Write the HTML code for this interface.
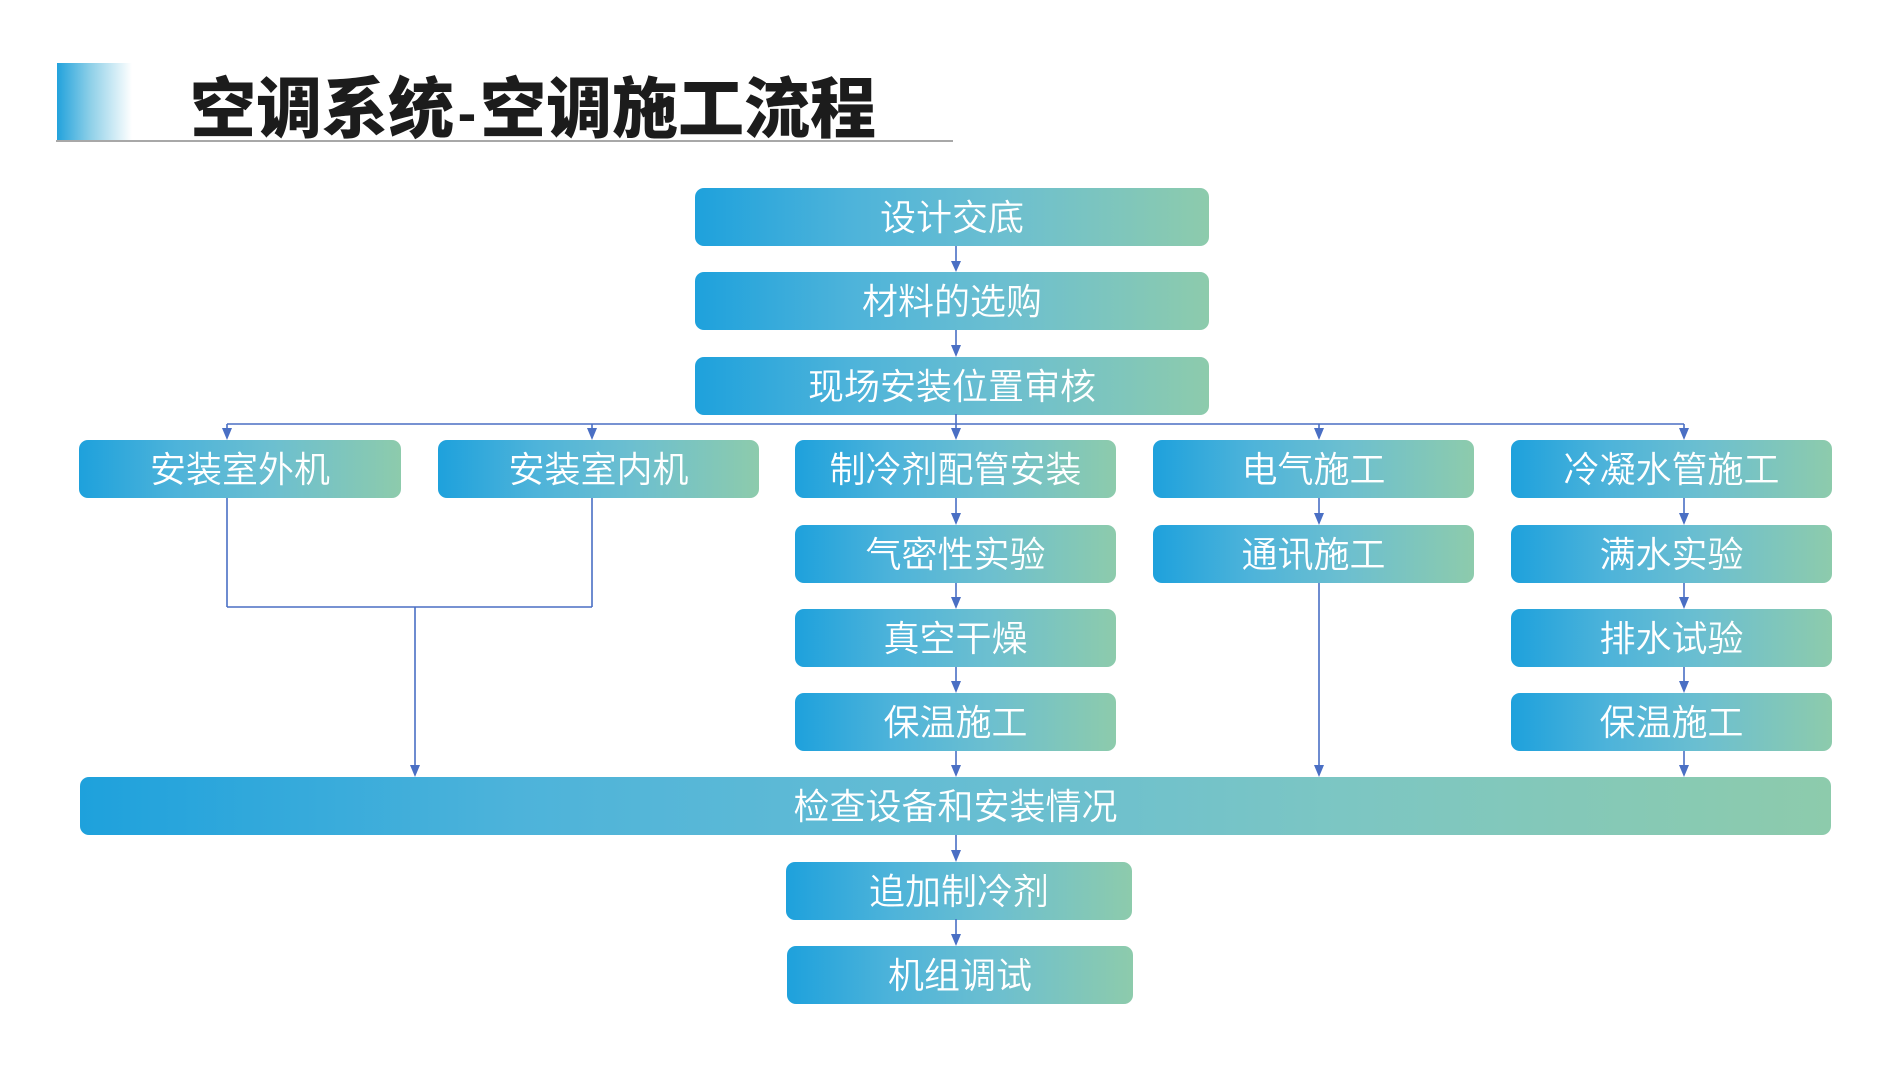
<!DOCTYPE html>
<html>
<head>
<meta charset="utf-8">
<style>
  html,body{margin:0;padding:0;background:#fff;}
  body{width:1904px;height:1070px;position:relative;overflow:hidden;
       font-family:"Liberation Sans","Noto Sans CJK SC",sans-serif;}
  .bar{position:absolute;left:57px;top:63px;width:75px;height:78px;
       background:linear-gradient(to right,#22a2dc 0%,#8fd0e8 45%,#ffffff 100%);}
  .uline{position:absolute;left:56px;top:140px;width:897px;height:2px;background:#a8a8a8;}
  .title{position:absolute;left:190px;top:72px;height:74px;line-height:74px;
         font-family:"Liberation Sans","Noto Sans CJK SC",sans-serif;
         font-weight:900;font-size:66px;color:#1c1c1c;white-space:nowrap;letter-spacing:0px;}
  .title .d{display:inline-block;width:26px;text-align:center;font-size:56px;}
  .b{position:absolute;height:58px;border-radius:9px;
     background:linear-gradient(to right,#1ea1dc 0%,#4db3da 30%,#6cbfd0 60%,#8dcbac 100%);
     color:#fff;font-size:36px;font-weight:350;display:flex;align-items:center;justify-content:center;
     font-family:"Liberation Sans","Noto Sans CJK SC",sans-serif;white-space:nowrap;}
  .b span{position:relative;top:-2px;}
  svg{position:absolute;left:0;top:0;}
</style>
</head>
<body>
<div class="bar"></div>
<div class="uline"></div>
<div class="title">空调系统<span class="d">-</span>空调施工流程</div>

<div class="b" style="left:695px;top:188px;width:514px;"><span>设计交底</span></div>
<div class="b" style="left:695px;top:272px;width:514px;"><span>材料的选购</span></div>
<div class="b" style="left:695px;top:357px;width:514px;"><span>现场安装位置审核</span></div>

<div class="b" style="left:79px;top:440px;width:322px;"><span>安装室外机</span></div>
<div class="b" style="left:438px;top:440px;width:321px;"><span>安装室内机</span></div>
<div class="b" style="left:795px;top:440px;width:321px;"><span>制冷剂配管安装</span></div>
<div class="b" style="left:1153px;top:440px;width:321px;"><span>电气施工</span></div>
<div class="b" style="left:1511px;top:440px;width:321px;"><span>冷凝水管施工</span></div>

<div class="b" style="left:795px;top:525px;width:321px;"><span>气密性实验</span></div>
<div class="b" style="left:795px;top:609px;width:321px;"><span>真空干燥</span></div>
<div class="b" style="left:795px;top:693px;width:321px;"><span>保温施工</span></div>

<div class="b" style="left:1153px;top:525px;width:321px;"><span>通讯施工</span></div>

<div class="b" style="left:1511px;top:525px;width:321px;"><span>满水实验</span></div>
<div class="b" style="left:1511px;top:609px;width:321px;"><span>排水试验</span></div>
<div class="b" style="left:1511px;top:693px;width:321px;"><span>保温施工</span></div>

<div class="b" style="left:80px;top:777px;width:1751px;background:linear-gradient(to right,#1ea1dc 0%,#4db3da 25%,#66bdd3 50%,#7cc6c3 72%,#8dcbac 100%);"><span>检查设备和安装情况</span></div>

<div class="b" style="left:786px;top:862px;width:346px;"><span>追加制冷剂</span></div>
<div class="b" style="left:787px;top:946px;width:346px;"><span>机组调试</span></div>

<svg width="1904" height="1070" viewBox="0 0 1904 1070">
  <g stroke="#4a6fc4" stroke-width="1.6" fill="none">
    <line x1="956" y1="246" x2="956" y2="262"/>
    <line x1="956" y1="330" x2="956" y2="346"/>
    <line x1="956" y1="414" x2="956" y2="430"/>
    <line x1="956" y1="498" x2="956" y2="515"/>
    <line x1="956" y1="583" x2="956" y2="599"/>
    <line x1="956" y1="667" x2="956" y2="683"/>
    <line x1="956" y1="751" x2="956" y2="767"/>
    <line x1="956" y1="835" x2="956" y2="852"/>
    <line x1="956" y1="919" x2="956" y2="936"/>
    <line x1="227" y1="424" x2="1684" y2="424"/>
    <line x1="227" y1="424" x2="227" y2="430"/>
    <line x1="592" y1="424" x2="592" y2="430"/>
    <line x1="1319" y1="424" x2="1319" y2="430"/>
    <line x1="1684" y1="424" x2="1684" y2="430"/>
    <line x1="227" y1="498" x2="227" y2="607"/>
    <line x1="592" y1="498" x2="592" y2="607"/>
    <line x1="227" y1="607" x2="592" y2="607"/>
    <line x1="415" y1="607" x2="415" y2="767"/>
    <line x1="1319" y1="498" x2="1319" y2="515"/>
    <line x1="1319" y1="583" x2="1319" y2="767"/>
    <line x1="1684" y1="498" x2="1684" y2="515"/>
    <line x1="1684" y1="583" x2="1684" y2="599"/>
    <line x1="1684" y1="667" x2="1684" y2="683"/>
    <line x1="1684" y1="751" x2="1684" y2="767"/>
  </g>
  <g fill="#4a6fc4">
    <polygon points="951,261 961,261 956,272"/>
    <polygon points="951,345 961,345 956,357"/>
    <polygon points="951,428 961,428 956,440"/>
    <polygon points="951,513 961,513 956,525"/>
    <polygon points="951,597 961,597 956,609"/>
    <polygon points="951,681 961,681 956,693"/>
    <polygon points="951,765 961,765 956,777"/>
    <polygon points="951,850 961,850 956,862"/>
    <polygon points="951,934 961,934 956,946"/>
    <polygon points="222,428 232,428 227,440"/>
    <polygon points="587,428 597,428 592,440"/>
    <polygon points="1314,428 1324,428 1319,440"/>
    <polygon points="1679,428 1689,428 1684,440"/>
    <polygon points="410,765 420,765 415,777"/>
    <polygon points="1314,513 1324,513 1319,525"/>
    <polygon points="1314,765 1324,765 1319,777"/>
    <polygon points="1679,513 1689,513 1684,525"/>
    <polygon points="1679,597 1689,597 1684,609"/>
    <polygon points="1679,681 1689,681 1684,693"/>
    <polygon points="1679,765 1689,765 1684,777"/>
  </g>
</svg>
</body>
</html>
